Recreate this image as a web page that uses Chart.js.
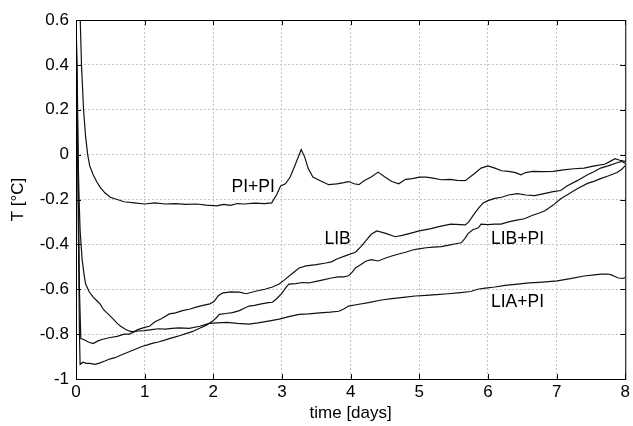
<!DOCTYPE html>
<html lang="en">
<head>
    <meta charset="UTF-8">
    <title>T vs time</title>
    <script src="https://cdn.jsdelivr.net/npm/chart.js"></script>
    <style>
        body { margin: 0; background: #fff; }
    </style>
</head>
<body>
<canvas id="myChart" width="633" height="426"></canvas>

<script>
    // eixos
    const xTicks = [0, 1, 2, 3, 4, 5, 6, 7, 8];
    const yTicks = [0.6, 0.4, 0.2, 0, -0.2, -0.4, -0.6, -0.8, -1];

    // PI+PI
    const piPiDays = [0.06,0.08,0.11,0.14,0.17,0.2,0.25,0.3,0.35,0.42,0.5,0.6,0.7,0.85,1.0,1.15,1.3,1.45,1.6,1.75,1.9,2.05,2.15,2.25,2.35,2.45,2.6,2.75,2.85,2.92,2.98,3.05,3.12,3.2,3.28,3.33,3.38,3.45,3.55,3.68,3.8,3.9,3.97,4.05,4.12,4.2,4.3,4.4,4.5,4.6,4.7,4.8,4.9,5.0,5.1,5.2,5.32,5.45,5.55,5.67,5.8,5.9,6.0,6.1,6.2,6.3,6.4,6.48,6.55,6.65,6.8,6.95,7.1,7.25,7.4,7.55,7.7,7.78,7.85,7.92,8.0];
    const piPiTemp = [0.62,0.4,0.2,0.08,0.0,-0.05,-0.09,-0.12,-0.145,-0.17,-0.19,-0.2,-0.21,-0.215,-0.22,-0.215,-0.22,-0.218,-0.222,-0.22,-0.225,-0.228,-0.222,-0.226,-0.218,-0.22,-0.216,-0.218,-0.215,-0.18,-0.14,-0.13,-0.1,-0.04,0.023,-0.01,-0.06,-0.1,-0.115,-0.134,-0.13,-0.125,-0.12,-0.13,-0.134,-0.115,-0.1,-0.078,-0.1,-0.12,-0.13,-0.11,-0.107,-0.1,-0.1,-0.105,-0.112,-0.11,-0.115,-0.116,-0.085,-0.06,-0.05,-0.06,-0.072,-0.075,-0.08,-0.09,-0.08,-0.075,-0.076,-0.075,-0.068,-0.063,-0.06,-0.05,-0.043,-0.03,-0.018,-0.025,-0.03];

    // LIB
    const libDays = [0.0,0.03,0.05,0.07,0.12,0.18,0.25,0.32,0.39,0.5,0.6,0.7,0.78,0.9,1.0,1.07,1.15,1.25,1.36,1.45,1.55,1.65,1.75,1.85,1.95,2.01,2.07,2.13,2.25,2.38,2.48,2.6,2.75,2.86,2.96,3.05,3.14,3.25,3.35,3.5,3.64,3.72,3.8,3.93,4.07,4.15,4.22,4.3,4.38,4.5,4.65,4.75,4.88,5.0,5.17,5.3,5.46,5.6,5.67,5.72,5.78,5.86,5.93,6.0,6.1,6.2,6.3,6.43,6.55,6.68,6.8,6.95,7.06,7.15,7.3,7.45,7.55,7.64,7.75,7.88,7.95,8.0];
    const libTemp = [0.62,0.0,-0.6,-0.82,-0.825,-0.835,-0.842,-0.83,-0.823,-0.815,-0.81,-0.8,-0.8,-0.78,-0.77,-0.765,-0.745,-0.73,-0.71,-0.705,-0.695,-0.689,-0.68,-0.672,-0.665,-0.655,-0.63,-0.617,-0.612,-0.613,-0.62,-0.61,-0.6,-0.59,-0.577,-0.555,-0.532,-0.505,-0.496,-0.49,-0.483,-0.478,-0.465,-0.45,-0.435,-0.41,-0.384,-0.355,-0.34,-0.35,-0.366,-0.36,-0.35,-0.34,-0.33,-0.32,-0.31,-0.312,-0.313,-0.3,-0.273,-0.24,-0.215,-0.205,-0.195,-0.19,-0.18,-0.174,-0.18,-0.183,-0.175,-0.165,-0.16,-0.14,-0.116,-0.09,-0.075,-0.06,-0.05,-0.036,-0.03,-0.04];

    // LIB+PI
    const libPiDays = [0.0,0.03,0.05,0.06,0.1,0.15,0.2,0.28,0.35,0.42,0.5,0.57,0.64,0.72,0.8,0.88,0.96,1.04,1.12,1.2,1.28,1.36,1.45,1.53,1.6,1.7,1.8,1.9,1.99,2.04,2.09,2.18,2.28,2.38,2.45,2.52,2.6,2.7,2.8,2.86,2.93,3.0,3.05,3.1,3.2,3.3,3.39,3.5,3.6,3.72,3.82,3.9,3.97,4.02,4.07,4.15,4.22,4.3,4.4,4.5,4.6,4.7,4.8,4.9,4.99,5.1,5.2,5.32,5.45,5.55,5.61,5.66,5.71,5.78,5.86,5.9,6.0,6.1,6.19,6.3,6.42,6.53,6.65,6.75,6.83,6.95,7.06,7.15,7.3,7.45,7.55,7.64,7.75,7.88,7.95,8.0];
    const libPiTemp = [0.62,-0.2,-0.8,-0.935,-0.925,-0.93,-0.93,-0.935,-0.928,-0.92,-0.91,-0.905,-0.895,-0.885,-0.875,-0.865,-0.855,-0.848,-0.84,-0.835,-0.828,-0.82,-0.812,-0.805,-0.798,-0.788,-0.774,-0.76,-0.742,-0.728,-0.712,-0.708,-0.704,-0.695,-0.685,-0.675,-0.672,-0.665,-0.66,-0.658,-0.64,-0.617,-0.595,-0.577,-0.575,-0.57,-0.572,-0.565,-0.558,-0.55,-0.545,-0.545,-0.54,-0.525,-0.505,-0.49,-0.475,-0.468,-0.474,-0.462,-0.452,-0.443,-0.435,-0.425,-0.42,-0.415,-0.412,-0.41,-0.402,-0.396,-0.393,-0.375,-0.352,-0.335,-0.326,-0.31,-0.312,-0.31,-0.31,-0.3,-0.292,-0.286,-0.27,-0.26,-0.25,-0.225,-0.197,-0.18,-0.152,-0.128,-0.118,-0.107,-0.095,-0.08,-0.065,-0.049];

    // LIA+PI
    const liaPiDays = [0.0,0.02,0.03,0.045,0.06,0.09,0.12,0.14,0.19,0.25,0.3,0.35,0.4,0.45,0.5,0.55,0.6,0.65,0.72,0.78,0.84,0.9,1.0,1.1,1.2,1.3,1.4,1.5,1.65,1.8,1.94,2.05,2.2,2.35,2.52,2.65,2.8,2.96,3.1,3.25,3.39,3.55,3.7,3.83,3.9,3.97,4.1,4.26,4.45,4.6,4.8,4.94,5.1,5.25,5.42,5.6,5.75,5.85,5.96,6.1,6.25,6.43,6.6,6.8,7.01,7.2,7.4,7.55,7.65,7.74,7.8,7.84,7.9,7.96,8.0];
    const liaPiTemp = [0.62,0.3,0.0,-0.2,-0.34,-0.47,-0.54,-0.577,-0.61,-0.635,-0.65,-0.665,-0.69,-0.705,-0.72,-0.735,-0.752,-0.765,-0.778,-0.787,-0.79,-0.786,-0.784,-0.78,-0.776,-0.778,-0.774,-0.772,-0.774,-0.765,-0.752,-0.75,-0.748,-0.752,-0.755,-0.75,-0.742,-0.733,-0.722,-0.712,-0.71,-0.705,-0.702,-0.698,-0.688,-0.675,-0.668,-0.66,-0.648,-0.642,-0.635,-0.63,-0.627,-0.624,-0.62,-0.615,-0.61,-0.6,-0.595,-0.59,-0.583,-0.577,-0.572,-0.568,-0.563,-0.553,-0.541,-0.536,-0.533,-0.532,-0.536,-0.542,-0.55,-0.552,-0.548];

    // rotulos dentro do grafico
    const rotulos = ['PI+PI', 'LIB', 'LIB+PI', 'LIA+PI'];
    const rotuloX = [2.58, 3.81, 6.43, 6.43];
    const rotuloY = [-0.147, -0.375, -0.375, -0.657];

    const fonte = '"Liberation Sans", Arial, sans-serif';

    function pontos(xs, ys) {
        return xs.map((x, i) => ({ x: x, y: ys[i] }));
    }

    function serie(label, xs, ys) {
        return {
            label: label,
            data: pontos(xs, ys),
            borderColor: '#111',
            borderWidth: 1.2,
            pointRadius: 0,
            tension: 0,
            fill: false
        };
    }

    // moldura com marcas para dentro + textos das curvas
    const moldura = {
        id: 'moldura',
        afterDatasetsDraw(chart) {
            const ctx = chart.ctx;
            const a = chart.chartArea;
            const xs = chart.scales.x;
            const ys = chart.scales.y;
            ctx.save();
            ctx.strokeStyle = '#000';
            ctx.lineWidth = 1;
            ctx.strokeRect(a.left + 0.5, a.top + 0.5, a.right - a.left, a.bottom - a.top);
            ctx.beginPath();
            xTicks.forEach(v => {
                const p = Math.round(xs.getPixelForValue(v)) + 0.5;
                ctx.moveTo(p, a.bottom); ctx.lineTo(p, a.bottom - 5);
                ctx.moveTo(p, a.top); ctx.lineTo(p, a.top + 5);
            });
            yTicks.forEach(v => {
                const p = Math.round(ys.getPixelForValue(v)) + 0.5;
                ctx.moveTo(a.left, p); ctx.lineTo(a.left + 5, p);
                ctx.moveTo(a.right, p); ctx.lineTo(a.right - 5, p);
            });
            ctx.stroke();

            ctx.fillStyle = '#000';
            ctx.font = '17.5px ' + fonte;
            ctx.textAlign = 'center';
            ctx.textBaseline = 'middle';
            for (let i = 0; i < rotulos.length; i++) {
                ctx.fillText(rotulos[i], xs.getPixelForValue(rotuloX[i]), ys.getPixelForValue(rotuloY[i]));
            }
            ctx.restore();
        }
    };

    new Chart(document.getElementById('myChart'), {
        type: 'line',
        data: {
            datasets: [
                serie('PI+PI', piPiDays, piPiTemp),
                serie('LIB', libDays, libTemp),
                serie('LIB+PI', libPiDays, libPiTemp),
                serie('LIA+PI', liaPiDays, liaPiTemp)
            ]
        },
        options: {
            responsive: false,
            animation: false,
            layout: { padding: { top: 20, right: 5, left: 0, bottom: 0 } },
            plugins: { legend: { display: false }, tooltip: { enabled: false } },
            scales: {
                x: {
                    type: 'linear',
                    min: 0,
                    max: 8,
                    afterFit: s => { s.height = 47; },
                    afterBuildTicks: s => { s.ticks = xTicks.map(v => ({ value: v })); },
                    grid: { color: '#c4c4c4', drawTicks: false },
                    border: { display: false, dash: [2, 2] },
                    ticks: { color: '#000', padding: 3, font: { family: fonte, size: 17 } },
                    title: { display: true, text: 'time [days]', color: '#000', padding: { top: 0, bottom: 2 }, font: { family: fonte, size: 17 } }
                },
                y: {
                    min: -1,
                    max: 0.6,
                    afterFit: s => { s.width = 76; },
                    afterBuildTicks: s => { s.ticks = yTicks.map(v => ({ value: v })); },
                    grid: { color: '#c4c4c4', drawTicks: false },
                    border: { display: false, dash: [2, 2] },
                    ticks: {
                        color: '#000',
                        padding: 7,
                        font: { family: fonte, size: 17 },
                        callback: v => {
                            const r = Math.round(v * 10) / 10;
                            return r === 0 ? '0' : String(r);
                        }
                    },
                    title: { display: true, text: 'T [°C]', color: '#000', padding: { top: 8, bottom: 0 }, font: { family: fonte, size: 17 } }
                }
            }
        },
        plugins: [moldura]
    });
</script>
</body>
</html>
